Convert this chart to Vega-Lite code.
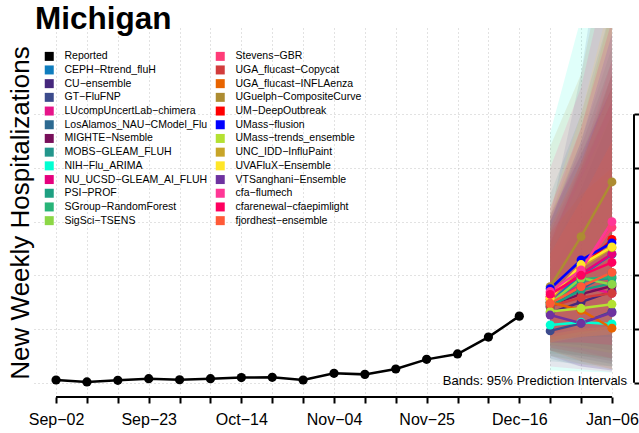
{
 "$schema": "https://vega.github.io/schema/vega-lite/v6.json",
 "width": 600, "height": 369,
 "autosize": {"type": "none"},
 "padding": {"left": 34, "top": 28, "right": 5, "bottom": 36},
 "background": "white",
 "config": {"font": "Liberation Sans", "view": {"stroke": null}},
 "title": {"text": "Michigan", "anchor": "start", "frame": "group", "fontSize": 31.5, "fontWeight": "bold", "color": "black", "baseline": "alphabetic", "offset": -1, "dy": 31, "dx": 1},
 "datasets": {
  "reported": [
   {"date": "2023-09-02", "value": 10}, {"date": "2023-09-09", "value": 3}, {"date": "2023-09-16", "value": 9},
   {"date": "2023-09-23", "value": 15}, {"date": "2023-09-30", "value": 11}, {"date": "2023-10-07", "value": 15},
   {"date": "2023-10-14", "value": 19}, {"date": "2023-10-21", "value": 20}, {"date": "2023-10-28", "value": 10},
   {"date": "2023-11-04", "value": 35}, {"date": "2023-11-11", "value": 31}, {"date": "2023-11-18", "value": 51},
   {"date": "2023-11-25", "value": 87}, {"date": "2023-12-02", "value": 107}, {"date": "2023-12-09", "value": 170},
   {"date": "2023-12-16", "value": 248}
  ],
  "fc": [
   {"model": "CEPH-Rtrend_fluH", "date": "2023-12-23", "value": 300, "lo": 150, "hi": 520},
   {"model": "CEPH-Rtrend_fluH", "date": "2023-12-30", "value": 400, "lo": 140, "hi": 820},
   {"model": "CEPH-Rtrend_fluH", "date": "2024-01-06", "value": 478, "lo": 120, "hi": 1150},
   {"model": "CU-ensemble", "date": "2023-12-23", "value": 260, "lo": 120, "hi": 480},
   {"model": "CU-ensemble", "date": "2023-12-30", "value": 300, "lo": 90, "hi": 720},
   {"model": "CU-ensemble", "date": "2024-01-06", "value": 340, "lo": 70, "hi": 1000},
   {"model": "GT-FluFNP", "date": "2023-12-23", "value": 193, "lo": 90, "hi": 620},
   {"model": "GT-FluFNP", "date": "2023-12-30", "value": 221, "lo": 60, "hi": 1150},
   {"model": "GT-FluFNP", "date": "2024-01-06", "value": 265, "lo": 45, "hi": 1900},
   {"model": "LUcompUncertLab-chimera", "date": "2023-12-23", "value": 310, "lo": 140, "hi": 560},
   {"model": "LUcompUncertLab-chimera", "date": "2023-12-30", "value": 360, "lo": 120, "hi": 800},
   {"model": "LUcompUncertLab-chimera", "date": "2024-01-06", "value": 333, "lo": 90, "hi": 1050},
   {"model": "LosAlamos_NAU-CModel_Flu", "date": "2023-12-23", "value": 280, "lo": 160, "hi": 420},
   {"model": "LosAlamos_NAU-CModel_Flu", "date": "2023-12-30", "value": 350, "lo": 170, "hi": 600},
   {"model": "LosAlamos_NAU-CModel_Flu", "date": "2024-01-06", "value": 410, "lo": 170, "hi": 780},
   {"model": "MIGHTE-Nsemble", "date": "2023-12-23", "value": 290, "lo": 120, "hi": 600},
   {"model": "MIGHTE-Nsemble", "date": "2023-12-30", "value": 330, "lo": 100, "hi": 880},
   {"model": "MIGHTE-Nsemble", "date": "2024-01-06", "value": 360, "lo": 80, "hi": 1200},
   {"model": "MOBS-GLEAM_FLUH", "date": "2023-12-23", "value": 300, "lo": 80, "hi": 700},
   {"model": "MOBS-GLEAM_FLUH", "date": "2023-12-30", "value": 380, "lo": 70, "hi": 1000},
   {"model": "MOBS-GLEAM_FLUH", "date": "2024-01-06", "value": 389, "lo": 60, "hi": 1400},
   {"model": "NIH-Flu_ARIMA", "date": "2023-12-23", "value": 215, "lo": 45, "hi": 930},
   {"model": "NIH-Flu_ARIMA", "date": "2023-12-30", "value": 225, "lo": 42, "hi": 1360},
   {"model": "NIH-Flu_ARIMA", "date": "2024-01-06", "value": 219, "lo": 38, "hi": 1900},
   {"model": "NU_UCSD-GLEAM_AI_FLUH", "date": "2023-12-23", "value": 320, "lo": 170, "hi": 540},
   {"model": "NU_UCSD-GLEAM_AI_FLUH", "date": "2023-12-30", "value": 405, "lo": 190, "hi": 780},
   {"model": "NU_UCSD-GLEAM_AI_FLUH", "date": "2024-01-06", "value": 480, "lo": 200, "hi": 1050},
   {"model": "PSI-PROF", "date": "2023-12-23", "value": 285, "lo": 100, "hi": 620},
   {"model": "PSI-PROF", "date": "2023-12-30", "value": 345, "lo": 80, "hi": 900},
   {"model": "PSI-PROF", "date": "2024-01-06", "value": 370, "lo": 60, "hi": 1250},
   {"model": "SGroup-RandomForest", "date": "2023-12-23", "value": 290, "lo": 110, "hi": 600},
   {"model": "SGroup-RandomForest", "date": "2023-12-30", "value": 385, "lo": 100, "hi": 850},
   {"model": "SGroup-RandomForest", "date": "2024-01-06", "value": 395, "lo": 90, "hi": 1150},
   {"model": "SigSci-TSENS", "date": "2023-12-23", "value": 295, "lo": 140, "hi": 520},
   {"model": "SigSci-TSENS", "date": "2023-12-30", "value": 390, "lo": 130, "hi": 760},
   {"model": "SigSci-TSENS", "date": "2024-01-06", "value": 366, "lo": 110, "hi": 1000},
   {"model": "Stevens-GBR", "date": "2023-12-23", "value": 335, "lo": 190, "hi": 560},
   {"model": "Stevens-GBR", "date": "2023-12-30", "value": 415, "lo": 210, "hi": 820},
   {"model": "Stevens-GBR", "date": "2024-01-06", "value": 579, "lo": 260, "hi": 1200},
   {"model": "UGA_flucast-Copycat", "date": "2023-12-23", "value": 285, "lo": 130, "hi": 580},
   {"model": "UGA_flucast-Copycat", "date": "2023-12-30", "value": 317, "lo": 110, "hi": 820},
   {"model": "UGA_flucast-Copycat", "date": "2024-01-06", "value": 333, "lo": 90, "hi": 1100},
   {"model": "UGA_flucast-INFLAenza", "date": "2023-12-23", "value": 300, "lo": 120, "hi": 560},
   {"model": "UGA_flucast-INFLAenza", "date": "2023-12-30", "value": 270, "lo": 80, "hi": 700},
   {"model": "UGA_flucast-INFLAenza", "date": "2024-01-06", "value": 203, "lo": 50, "hi": 800},
   {"model": "UGuelph-CompositeCurve", "date": "2023-12-23", "value": 358, "lo": 200, "hi": 880},
   {"model": "UGuelph-CompositeCurve", "date": "2023-12-30", "value": 544, "lo": 260, "hi": 1150},
   {"model": "UGuelph-CompositeCurve", "date": "2024-01-06", "value": 748, "lo": 320, "hi": 1700},
   {"model": "UM-DeepOutbreak", "date": "2023-12-23", "value": 320, "lo": 180, "hi": 520},
   {"model": "UM-DeepOutbreak", "date": "2023-12-30", "value": 425, "lo": 220, "hi": 800},
   {"model": "UM-DeepOutbreak", "date": "2024-01-06", "value": 534, "lo": 260, "hi": 1150},
   {"model": "UMass-flusion", "date": "2023-12-23", "value": 350, "lo": 180, "hi": 600},
   {"model": "UMass-flusion", "date": "2023-12-30", "value": 457, "lo": 200, "hi": 900},
   {"model": "UMass-flusion", "date": "2024-01-06", "value": 521, "lo": 210, "hi": 1300},
   {"model": "UMass-trends_ensemble", "date": "2023-12-23", "value": 265, "lo": 100, "hi": 580},
   {"model": "UMass-trends_ensemble", "date": "2023-12-30", "value": 277, "lo": 70, "hi": 820},
   {"model": "UMass-trends_ensemble", "date": "2024-01-06", "value": 292, "lo": 50, "hi": 1100},
   {"model": "UNC_IDD-InfluPaint", "date": "2023-12-23", "value": 310, "lo": 150, "hi": 620},
   {"model": "UNC_IDD-InfluPaint", "date": "2023-12-30", "value": 430, "lo": 180, "hi": 950},
   {"model": "UNC_IDD-InfluPaint", "date": "2024-01-06", "value": 503, "lo": 200, "hi": 1400},
   {"model": "UVAFluX-Ensemble", "date": "2023-12-23", "value": 315, "lo": 150, "hi": 650},
   {"model": "UVAFluX-Ensemble", "date": "2023-12-30", "value": 440, "lo": 170, "hi": 1000},
   {"model": "UVAFluX-Ensemble", "date": "2024-01-06", "value": 506, "lo": 180, "hi": 1450},
   {"model": "VTSanghani-Ensemble", "date": "2023-12-23", "value": 252, "lo": 100, "hi": 620},
   {"model": "VTSanghani-Ensemble", "date": "2023-12-30", "value": 222, "lo": 60, "hi": 850},
   {"model": "VTSanghani-Ensemble", "date": "2024-01-06", "value": 261, "lo": 45, "hi": 1100},
   {"model": "cfa-flumech", "date": "2023-12-23", "value": 340, "lo": 60, "hi": 800},
   {"model": "cfa-flumech", "date": "2023-12-30", "value": 420, "lo": 50, "hi": 1100},
   {"model": "cfa-flumech", "date": "2024-01-06", "value": 600, "lo": 40, "hi": 1600},
   {"model": "cfarenewal-cfaepimlight", "date": "2023-12-23", "value": 329, "lo": 150, "hi": 650},
   {"model": "cfarenewal-cfaepimlight", "date": "2023-12-30", "value": 400, "lo": 150, "hi": 950},
   {"model": "cfarenewal-cfaepimlight", "date": "2024-01-06", "value": 448, "lo": 140, "hi": 1350},
   {"model": "fjordhest-ensemble", "date": "2023-12-23", "value": 296, "lo": 160, "hi": 480},
   {"model": "fjordhest-ensemble", "date": "2023-12-30", "value": 358, "lo": 170, "hi": 680},
   {"model": "fjordhest-ensemble", "date": "2024-01-06", "value": 411, "lo": 180, "hi": 900}
  ]
 },
 "layer": [
  {
   "data": {"name": "fc"},
   "mark": {"type": "area", "opacity": 0.12, "clip": true},
   "encoding": {
    "x": {"field": "date", "type": "temporal",
     "scale": {"type": "utc", "domain": [{"year": 2023, "month": 8, "date": 28, "utc": true}, {"year": 2024, "month": 1, "date": 11, "utc": true}]},
     "axis": {"orient": "bottom", "title": null, "domain": false, "labels": false,
      "values": [
       {"year": 2023, "month": 9, "date": 2, "utc": true}, {"year": 2023, "month": 9, "date": 9, "utc": true},
       {"year": 2023, "month": 9, "date": 16, "utc": true}, {"year": 2023, "month": 9, "date": 23, "utc": true},
       {"year": 2023, "month": 9, "date": 30, "utc": true}, {"year": 2023, "month": 10, "date": 7, "utc": true},
       {"year": 2023, "month": 10, "date": 14, "utc": true}, {"year": 2023, "month": 10, "date": 21, "utc": true},
       {"year": 2023, "month": 10, "date": 28, "utc": true}, {"year": 2023, "month": 11, "date": 4, "utc": true},
       {"year": 2023, "month": 11, "date": 11, "utc": true}, {"year": 2023, "month": 11, "date": 18, "utc": true},
       {"year": 2023, "month": 11, "date": 25, "utc": true}, {"year": 2023, "month": 12, "date": 2, "utc": true},
       {"year": 2023, "month": 12, "date": 9, "utc": true}, {"year": 2023, "month": 12, "date": 16, "utc": true},
       {"year": 2023, "month": 12, "date": 23, "utc": true}, {"year": 2023, "month": 12, "date": 30, "utc": true},
       {"year": 2024, "month": 1, "date": 6, "utc": true}
      ],
      "ticks": true, "tickSize": 6, "tickWidth": 2, "tickColor": "black",
      "grid": true, "gridColor": "#c4c4c4", "gridDash": [1, 3], "gridWidth": 1}
    },
    "y": {"field": "lo", "type": "quantitative",
     "scale": {"domain": [-53.3, 1321.5], "nice": false, "zero": false},
     "axis": {"orient": "left", "values": [0, 200, 400, 600, 800, 1000], "domain": false, "ticks": false, "labels": false,
      "grid": true, "gridColor": "#c4c4c4", "gridDash": [1, 3], "gridWidth": 1,
      "title": "New Weekly Hospitalizations", "titleFontSize": 26, "titleFontWeight": "normal", "titleColor": "black", "titlePadding": 1}
    },
    "y2": {"field": "hi"},
    "color": {"field": "model", "type": "nominal",
     "scale": {
      "domain": ["Reported", "CEPH-Rtrend_fluH", "CU-ensemble", "GT-FluFNP", "LUcompUncertLab-chimera", "LosAlamos_NAU-CModel_Flu", "MIGHTE-Nsemble", "MOBS-GLEAM_FLUH", "NIH-Flu_ARIMA", "NU_UCSD-GLEAM_AI_FLUH", "PSI-PROF", "SGroup-RandomForest", "SigSci-TSENS", "Stevens-GBR", "UGA_flucast-Copycat", "UGA_flucast-INFLAenza", "UGuelph-CompositeCurve", "UM-DeepOutbreak", "UMass-flusion", "UMass-trends_ensemble", "UNC_IDD-InfluPaint", "UVAFluX-Ensemble", "VTSanghani-Ensemble", "cfa-flumech", "cfarenewal-cfaepimlight", "fjordhest-ensemble"],
      "range": ["#000000", "#0F7DBE", "#46287D", "#3C4B8C", "#E61489", "#2D6A91", "#780F5A", "#23968C", "#00FFD2", "#E6007D", "#1EA082", "#28B478", "#8CD746", "#FF3C78", "#D23C3C", "#E86400", "#AD8C32", "#FF0000", "#0000FF", "#B4E132", "#C8A528", "#FFE628", "#6E32A0", "#FF3796", "#FF005F", "#FF5A37"]
     },
     "legend": {"orient": "none", "legendX": 10, "legendY": 23, "columns": 2, "title": null, "padding": 0,
      "symbolType": "square", "symbolSize": 81, "symbolOpacity": 1, "symbolStrokeWidth": 0,
      "labelFontSize": 10.5, "labelColor": "black", "labelOffset": 10, "labelLimit": 300,
      "rowPadding": 2.7, "columnPadding": 7,
      "labelExpr": "replace(datum.label, '-', '−')",
      "encode": {"symbols": {"update": {"fill": {"scale": "color", "field": "value"}, "fillOpacity": {"value": 1}, "opacity": {"value": 1}, "strokeWidth": {"value": 0}}}}
     }
    }
   }
  },
  {
   "data": {"name": "fc"},
   "mark": {"type": "line", "strokeWidth": 2.5},
   "encoding": {
    "x": {"field": "date", "type": "temporal",
     "axis": {"orient": "bottom", "title": null, "domain": false, "ticks": false, "grid": false,
      "values": [
       {"year": 2023, "month": 9, "date": 2, "utc": true}, {"year": 2023, "month": 9, "date": 23, "utc": true},
       {"year": 2023, "month": 10, "date": 14, "utc": true}, {"year": 2023, "month": 11, "date": 4, "utc": true},
       {"year": 2023, "month": 11, "date": 25, "utc": true}, {"year": 2023, "month": 12, "date": 16, "utc": true},
       {"year": 2024, "month": 1, "date": 6, "utc": true}
      ],
      "labelFontSize": 16, "labelColor": "black", "labelPadding": 14, "labelOverlap": false, "labelFlush": false,
      "labelExpr": "utcFormat(datum.value,'%b') + '−' + utcFormat(datum.value,'%d')"}
    },
    "y": {"field": "value", "type": "quantitative",
     "axis": {"orient": "right", "values": [0, 200, 400, 600, 800, 1000], "domain": false, "ticks": true, "tickSize": 7, "tickWidth": 2, "tickColor": "black", "labels": false, "grid": false, "title": null}},
    "color": {"field": "model", "type": "nominal"}
   }
  },
  {
   "data": {"name": "fc"},
   "mark": {"type": "circle", "size": 80, "opacity": 1},
   "encoding": {
    "x": {"field": "date", "type": "temporal", "axis": null},
    "y": {"field": "value", "type": "quantitative", "axis": null},
    "color": {"field": "model", "type": "nominal"}
   }
  },
  {
   "data": {"name": "reported"},
   "mark": {"type": "line", "strokeWidth": 2.5, "color": "black"},
   "encoding": {
    "x": {"field": "date", "type": "temporal", "axis": null},
    "y": {"field": "value", "type": "quantitative", "axis": null}
   }
  },
  {
   "data": {"name": "reported"},
   "mark": {"type": "circle", "size": 85, "opacity": 1, "color": "black"},
   "encoding": {
    "x": {"field": "date", "type": "temporal", "axis": null},
    "y": {"field": "value", "type": "quantitative", "axis": null}
   }
  },
  {
   "data": {"values": [{}]},
   "mark": {"type": "rule", "strokeWidth": 2, "color": "black"},
   "encoding": {
    "x": {"datum": {"year": 2024, "month": 1, "date": 11, "utc": true}, "type": "temporal", "axis": null},
    "y": {"datum": 0, "type": "quantitative", "axis": null},
    "y2": {"datum": 1000}
   }
  },
  {
   "data": {"values": [{}]},
   "mark": {"type": "rule", "strokeWidth": 2, "color": "black"},
   "encoding": {
    "x": {"datum": {"year": 2023, "month": 9, "date": 2, "utc": true}, "type": "temporal", "axis": null},
    "x2": {"datum": {"year": 2024, "month": 1, "date": 6, "utc": true}},
    "y": {"datum": -53.3, "type": "quantitative", "axis": null}
   }
  },
  {
   "data": {"values": [{}]},
   "mark": {"type": "text", "fontSize": 13, "align": "right", "baseline": "middle", "color": "black"},
   "encoding": {
    "x": {"datum": {"year": 2024, "month": 1, "date": 9, "hours": 10, "utc": true}, "type": "temporal", "axis": null},
    "y": {"datum": 6, "type": "quantitative", "axis": null},
    "text": {"value": "Bands: 95% Prediction Intervals"}
   }
  }
 ],
 "resolve": {"axis": {"y": "independent", "x": "independent"}}
}
